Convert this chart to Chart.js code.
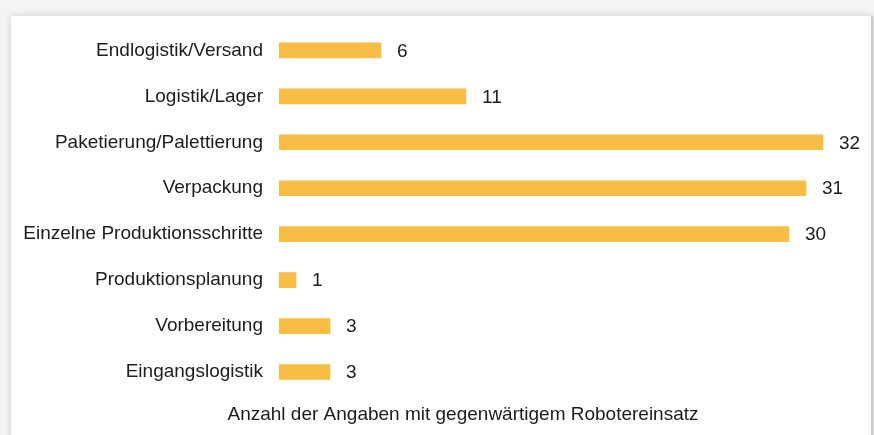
<!DOCTYPE html>
<html>
<head>
<meta charset="utf-8">
<script src="https://cdn.jsdelivr.net/npm/chart.js@4"></script>
<style>
  html, body { margin: 0; padding: 0; }
  body { width: 874px; height: 435px; background: #f4f4f4; position: relative; overflow: hidden; }
  #card { position: absolute; left: 11px; top: 16px; width: 860px; height: 440px; background: #fff;
          box-shadow: 0 0 7px rgba(0,0,0,0.16); border-right: 2px solid #cbcbcb; }
  #wrap { position: absolute; left: 0; top: 0; width: 874px; height: 435px; }
</style>
</head>
<body>
<div id="card"></div>
<div id="wrap"><canvas id="myChart"></canvas></div>
<script>
var categories = [
    'Endlogistik/Versand',
    'Logistik/Lager',
    'Paketierung/Palettierung',
    'Verpackung',
    'Einzelne Produktionsschritte',
    'Produktionsplanung',
    'Vorbereitung',
    'Eingangslogistik'
];
var counts = [6, 11, 32, 31, 30, 1, 3, 3];
var axisTitle = 'Anzahl der Angaben mit gegenwärtigem Robotereinsatz';

var barColor = '#f8bd45';
var textColor = '#1c1c1c';
var fontFamily = '"Liberation Sans", Arial, Helvetica, sans-serif';

// numbers right of each bar + the caption under the bars
var valueLabels = {
    id: 'valueLabels',
    afterDatasetsDraw: function(chart) {
        var ctx = chart.ctx;
        var meta = chart.getDatasetMeta(0);
        ctx.save();
        ctx.font = '19px ' + fontFamily;
        ctx.fillStyle = textColor;
        ctx.textAlign = 'left';
        ctx.textBaseline = 'middle';
        meta.data.forEach(function(bar, i) {
            ctx.fillText(String(counts[i]), bar.x + 16, bar.y + 1);
        });
        ctx.textAlign = 'center';
        ctx.fillText(axisTitle, chart.chartArea.left + 184, chart.chartArea.bottom + 20);
        ctx.restore();
    }
};

window.onload = function() {
    var ctx = document.getElementById('myChart').getContext('2d');
    new Chart(ctx, {
        type: 'bar',
        data: {
            labels: categories,
            datasets: [{
                data: counts,
                backgroundColor: barColor,
                borderWidth: 0,
                barThickness: 15
            }]
        },
        options: {
            indexAxis: 'y',
            responsive: true,
            maintainAspectRatio: false,
            animation: false,
            layout: { padding: { left: 0, right: 17, top: 26, bottom: 40 } },
            scales: {
                x: {
                    display: false,
                    min: 0,
                    max: 34
                },
                y: {
                    afterFit: function(scale) { scale.width = 279; },
                    grid: { display: false, drawTicks: false },
                    border: { display: false },
                    ticks: {
                        padding: 16,
                        color: textColor,
                        font: { family: fontFamily, size: 19 }
                    }
                }
            },
            plugins: {
                legend: { display: false },
                tooltip: { enabled: false },
                title: { display: false }
            }
        },
        plugins: [valueLabels]
    });
};
</script>
</body>
</html>
